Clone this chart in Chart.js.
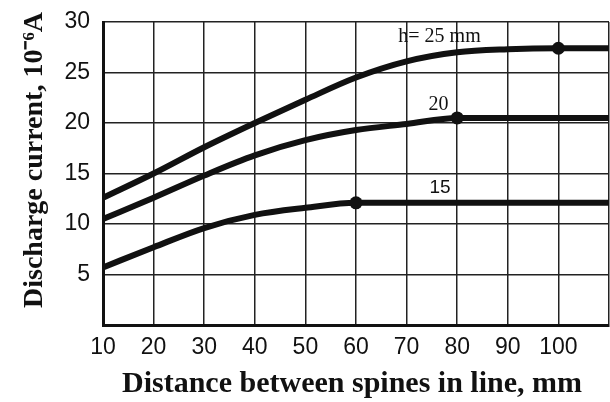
<!DOCTYPE html>
<html>
<head>
<meta charset="utf-8">
<script src="https://cdn.jsdelivr.net/npm/chart.js@4/dist/chart.umd.min.js"></script>
<style>
html,body{margin:0;padding:0;background:#fff;}
#wrap{width:610px;height:402px;position:relative;}
</style>
</head>
<body>
<div id="wrap"><canvas id="c" width="610" height="402"></canvas></div>
<script>
const distances = [10, 20, 30, 40, 50, 60, 70, 80, 90, 100, 110];
const h25 = [12.6, 15.0, 17.6, 20.0, 22.3, 24.5, 26.1, 27.0, 27.3, 27.4, 27.4];
const h20 = [10.5, 12.6, 14.8, 16.8, 18.3, 19.3, 19.9, 20.5, 20.5, 20.5, 20.5];
const h15 = [5.7, 7.7, 9.6, 10.9, 11.6, 12.1, 12.1, 12.1, 12.1, 12.1, 12.1];
const markerAt = [100, 80, 60];
const curveLabels = ["h= 25 mm", "20", "15"];
const labelX = [76.5, 76.3, 76.6];
const labelY = [28.5, 21.8, 13.6];
const xTicks = [10, 20, 30, 40, 50, 60, 70, 80, 90, 100];
const yTicks = [5, 10, 15, 20, 25, 30];
const xTitle = "Distance between spines in line, mm";
const yTitle = "Discharge current, 10\u207B\u2076A";

function pts(arr){ return distances.map((d,i)=>({x:d,y:arr[i]})); }
function radii(m){ return distances.map(d => d===m ? 6.5 : 0); }

const series = [h25, h20, h15];
const datasets = series.map((s,k)=>({
  data: pts(s),
  borderColor: '#111',
  backgroundColor: '#111',
  borderWidth: 6,
  cubicInterpolationMode: 'monotone',
  pointRadius: radii(markerAt[k]),
  pointBorderWidth: 0,
  pointHoverRadius: 0,
  fill: false
}));

const textPlugin = {
  id: 'texts',
  afterDraw(chart){
    const ctx = chart.ctx, xs = chart.scales.x, ys = chart.scales.y;
    ctx.save();
    ctx.fillStyle = '#111';
    ctx.textAlign = 'center';
    ctx.textBaseline = 'middle';
    curveLabels.forEach((t,i)=>{
      ctx.font = (i===2 ? '19px "Liberation Sans"' : '20px "Liberation Serif"');
      ctx.fillText(t, xs.getPixelForValue(labelX[i]), ys.getPixelForValue(labelY[i]));
    });
    ctx.font = 'bold 30px "Liberation Serif"';
    ctx.fillText(xTitle, 352, 384);
    ctx.font = 'bold 28px "Liberation Serif"';
    ctx.translate(35, 160);
    ctx.rotate(-Math.PI/2);
    ctx.fillText(yTitle, 0, 0);
    ctx.restore();
  }
};

new Chart(document.getElementById('c'), {
  type: 'line',
  data: { datasets },
  options: {
    responsive: false,
    animation: false,
    layout: { padding: { top: 22, right: 1, left: 0, bottom: 0 } },
    plugins: { legend: { display: false }, tooltip: { enabled: false } },
    scales: {
      x: {
        type: 'linear', min: 10, max: 110,
        afterBuildTicks(s){ s.ticks = distances.map(v=>({value:v})); },
        afterFit(s){ s.height = 77; s.paddingLeft = 0; s.paddingRight = 0; },
        ticks: {
          callback: v => xTicks.includes(v) ? String(v) : '',
          color: '#111', padding: 9,
          font: { family: '"Liberation Sans"', size: 23 },
          maxRotation: 0, autoSkip: false
        },
        grid: { color: '#222', lineWidth: 1.5, drawTicks: false },
        border: { color: '#111', width: 3 }
      },
      y: {
        type: 'linear', min: 0, max: 30,
        afterBuildTicks(s){ s.ticks = [0].concat(yTicks).map(v=>({value:v})); },
        afterFit(s){ s.width = 103; s.paddingTop = 0; s.paddingBottom = 0; },
        ticks: {
          callback: v => yTicks.includes(v) ? String(v) : '',
          color: '#111', padding: 13,
          font: { family: '"Liberation Sans"', size: 23 }
        },
        grid: { color: '#222', lineWidth: 1.5, drawTicks: false },
        border: { color: '#111', width: 3 }
      }
    }
  },
  plugins: [textPlugin]
});
</script>
</body>
</html>
